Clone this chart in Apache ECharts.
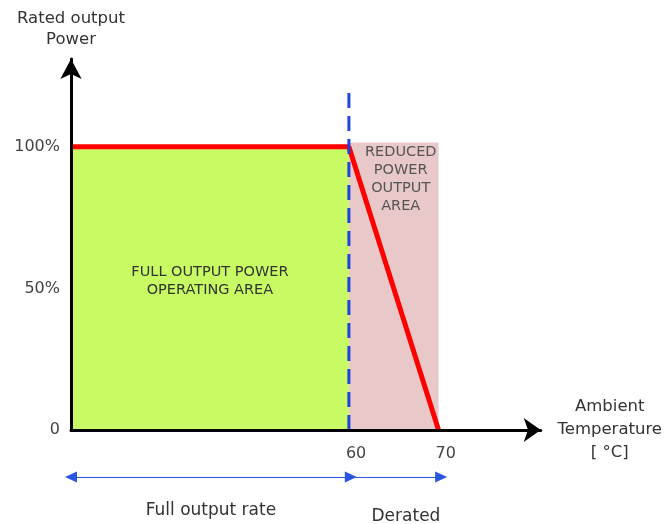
<!DOCTYPE html>
<html>
<head>
<meta charset="utf-8">
<script src="https://cdn.jsdelivr.net/npm/echarts@6/dist/echarts.min.js"></script>
<style>
html,body{margin:0;padding:0;background:#fff;}
#chart{width:665px;height:524px;}
</style>
</head>
<body>
<div id="chart"></div>
<script>
// schematic axis extents (temperature °C, output %)
const xRange = [29, 81.4];
const yRange = [0, 131];
const xTickValues = [60, 70];
const yTickValues = [0, 50, 100];
// derating curve: [temperature, output %]
const deratingCurve = [[29, 100], [60, 100], [70, 0]];
// vertical limit marker at 60 °C
const limitLine = [[60, 0], [60, 119]];
// regions
const fullArea = [[29, 0], [60, 100]];
const reducedArea = [[60, 0], [70, 101.5]];
// range arrows under the axis
const rangeFull = [29, 60];
const rangeDerated = [60, 70];

const FONT = 'DejaVu Sans';
const chart = echarts.init(document.getElementById('chart'), null, {renderer: 'canvas'});

chart.setOption({
  animation: false,
  backgroundColor: '#ffffff',
  grid: [
    {left: 71, right: 121, top: 59, bottom: 94},
    {left: 71, right: 121, top: 470, height: 14}
  ],
  xAxis: [
    {
      type: 'value', gridIndex: 0, min: xRange[0], max: xRange[1], z: 5,
      name: 'Ambient\nTemperature\n[ °C]', nameLocation: 'end', nameGap: 69,
      nameTextStyle: {fontFamily: FONT, fontSize: 16.5, color: '#333', align: 'center', verticalAlign: 'middle',
        lineHeight: 23, padding: [16, 0, 0, 0]},
      axisLine: {show: true, onZero: false, symbol: ['none', 'arrow'], symbolSize: [18, 17],
        lineStyle: {color: '#000', width: 3}},
      axisTick: {show: false},
      splitLine: {show: false},
      axisLabel: {customValues: xTickValues, align: 'left', margin: 16, padding: [0, 0, 0, -3],
        fontFamily: FONT, fontSize: 16, color: '#444'}
    },
    {type: 'value', gridIndex: 1, min: xRange[0], max: xRange[1], show: false}
  ],
  yAxis: [
    {
      type: 'value', gridIndex: 0, min: yRange[0], max: yRange[1], z: 5,
      name: 'Rated output\nPower', nameLocation: 'end', nameGap: 9,
      nameTextStyle: {fontFamily: FONT, fontSize: 16.5, color: '#333', align: 'center', verticalAlign: 'bottom', lineHeight: 21},
      axisLine: {show: true, onZero: false, symbol: ['none', 'arrow'], symbolSize: [16, 20],
        lineStyle: {color: '#000', width: 3}},
      axisTick: {show: false},
      splitLine: {show: false},
      axisLabel: {customValues: yTickValues, margin: 11,
        formatter: v => v === 0 ? '0' : v + '%',
        fontFamily: FONT, fontSize: 16, color: '#444'}
    },
    {type: 'value', gridIndex: 1, min: -1, max: 1, show: false}
  ],
  series: [
    {
      name: 'areas', type: 'line', xAxisIndex: 0, yAxisIndex: 0, data: [], z: 1,
      markArea: {
        silent: true,
        data: [
          [{coord: fullArea[0], itemStyle: {color: '#c8fa64'},
            label: {show: true, position: 'inside', offset: [0, -7],
              formatter: 'FULL OUTPUT POWER\nOPERATING AREA',
              fontFamily: FONT, fontSize: 14.5, lineHeight: 18, color: '#333'}},
           {coord: fullArea[1]}],
          [{coord: reducedArea[0], itemStyle: {color: '#e8c8c8'},
            label: {show: true, position: 'insideTop', distance: 1, offset: [7, 0],
              formatter: 'REDUCED\nPOWER\nOUTPUT\nAREA',
              fontFamily: FONT, fontSize: 14.5, lineHeight: 18, color: '#555'}},
           {coord: reducedArea[1]}]
        ]
      }
    },
    {
      name: 'Derating', type: 'line', xAxisIndex: 0, yAxisIndex: 0, z: 3,
      data: deratingCurve, symbol: 'none',
      lineStyle: {color: '#ff0000', width: 5}
    },
    {
      name: 'Limit', type: 'line', xAxisIndex: 0, yAxisIndex: 0, z: 4,
      data: limitLine, symbol: 'none',
      lineStyle: {color: '#1f44d8', width: 3, type: [15, 8]}
    },
    {
      name: 'ranges', type: 'line', xAxisIndex: 1, yAxisIndex: 1, data: [],
      markLine: {
        silent: true,
        symbol: ['triangle', 'triangle'],
        symbolSize: [11, 12],
        lineStyle: {color: '#2a55e0', width: 1, type: 'solid'},
        itemStyle: {color: '#1f44d8'},
        label: {show: true, position: 'insideMiddleBottom', distance: 25,
          fontFamily: FONT, fontSize: 17, color: '#333'},
        data: [
          [{coord: [rangeFull[0], 0], label: {formatter: 'Full output rate'}},
           {coord: [rangeFull[1], 0]}],
          [{coord: [rangeDerated[0], 0], symbol: 'none', label: {formatter: 'Derated', padding: [6, 0, 0, 20]}},
           {coord: [rangeDerated[1], 0]}]
        ]
      }
    }
  ]
});
</script>
</body>
</html>
